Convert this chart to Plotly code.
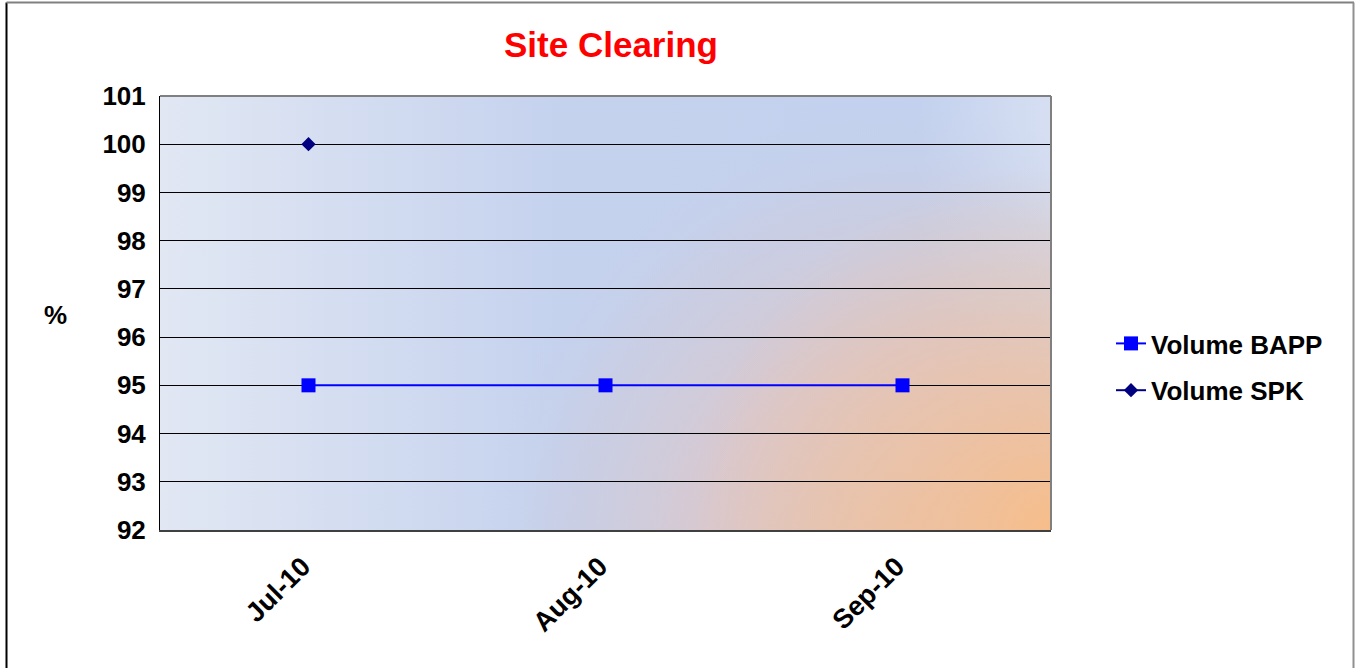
import base64
import plotly.graph_objects as go

months = ["Jul-10", "Aug-10", "Sep-10"]
bapp_values = [95, 95, 95]
spk_values = [100, None, None]
y_ticks = [92, 93, 94, 95, 96, 97, 98, 99, 100, 101]

W, H = 1355, 668
L, R, T, B = 160, 1051, 96, 530
pw, ph = R - L, B - T

def px(x):
    return (x - L) / pw

def py(y):
    return (B - y) / ph

c1x, c1y, r1x, r1y = 900 - L, 565 - T, 420, 460
c2x, c2y, r2 = pw, ph, 360
svg = f"""<svg xmlns='http://www.w3.org/2000/svg' width='{pw}' height='{ph}' viewBox='0 0 {pw} {ph}' preserveAspectRatio='none'>
<defs>
<linearGradient id='lg' x1='0' y1='0' x2='1' y2='0'>
<stop offset='0' stop-color='#E1E7F3'/>
<stop offset='0.45' stop-color='#C5D2EE'/>
<stop offset='0.85' stop-color='#C3D1EE'/>
<stop offset='1' stop-color='#D6DFF2'/>
</linearGradient>
<radialGradient id='rg1' gradientUnits='userSpaceOnUse' cx='{c1x}' cy='{c1y}' r='{r1x}'
 gradientTransform='translate({c1x},{c1y}) scale(1,{r1y / r1x:.4f}) translate({-c1x},{-c1y})'>
<stop offset='0' stop-color='#E9C3A9' stop-opacity='1'/>
<stop offset='0.45' stop-color='#DCC7CA' stop-opacity='0.9'/>
<stop offset='0.8' stop-color='#CDCBDC' stop-opacity='0.5'/>
<stop offset='1' stop-color='#C4D1EC' stop-opacity='0'/>
</radialGradient>
<radialGradient id='rg2' gradientUnits='userSpaceOnUse' cx='{c2x}' cy='{c2y}' r='{r2}'>
<stop offset='0' stop-color='#F7BD89' stop-opacity='1'/>
<stop offset='0.5' stop-color='#EEC1A0' stop-opacity='0.6'/>
<stop offset='1' stop-color='#E8C3AA' stop-opacity='0'/>
</radialGradient>
</defs>
<rect x='0' y='0' width='{pw}' height='{ph}' fill='url(#lg)'/>
<rect x='0' y='0' width='{pw}' height='{ph}' fill='url(#rg1)'/>
<rect x='0' y='0' width='{pw}' height='{ph}' fill='url(#rg2)'/>
</svg>"""
src = "data:image/svg+xml;base64," + base64.b64encode(svg.encode()).decode()

FONT = "Liberation Sans, Arial"

fig = go.Figure()
fig.add_trace(go.Scatter(
    x=months, y=bapp_values, name="Volume BAPP", mode="lines+markers",
    legendgroup="a",
    line=dict(color="#0000FF", width=2),
    marker=dict(symbol="square", size=14, color="#0000FF"),
))
fig.add_trace(go.Scatter(
    x=months, y=spk_values, name="Volume SPK", mode="lines+markers",
    legendgroup="b",
    line=dict(color="#000080", width=2),
    marker=dict(symbol="diamond", size=11, color="#000080"),
))

fig.update_layout(
    width=W, height=H,
    margin=dict(l=L, r=W - R, t=T, b=H - B),
    paper_bgcolor="white",
    plot_bgcolor="rgba(0,0,0,0)",
    title=dict(text="Site Clearing", x=px(611), xref="paper", y=1 - 45 / H,
               yanchor="middle", xanchor="center",
               font=dict(family=FONT, size=35, color="#FF0000", weight="bold")),
    showlegend=True,
    legend=dict(x=px(1111), y=py(367), xanchor="left", yanchor="middle",
                font=dict(family=FONT, size=26, color="black", weight="bold"),
                bgcolor="rgba(0,0,0,0)", traceorder="grouped", tracegroupgap=10),
    images=[dict(source=src, xref="paper", yref="paper", x=0, y=1, sizex=1, sizey=1,
                 sizing="stretch", layer="below", xanchor="left", yanchor="top")],
)

fig.update_xaxes(
    type="category", categoryorder="array", categoryarray=months,
    range=[-0.5, 2.5], tickangle=-45, showgrid=False, zeroline=False,
    showline=True, linecolor="#404040", linewidth=2, mirror=False,
    tickfont=dict(family=FONT, size=27, color="black", weight="bold"),
    ticks="", ticklabelstandoff=8, ticklabelshift=-6,
)
fig.update_yaxes(
    range=[92, 101], tickvals=y_ticks,
    showgrid=True, gridcolor="black", gridwidth=1, zeroline=False,
    showline=True, linecolor="black", linewidth=1, ticks="",
    tickfont=dict(family=FONT, size=26, color="black", weight="bold"),
    ticklabelstandoff=8,
)

# plot area border (top and right gray)
fig.add_shape(type="line", xref="paper", yref="paper", x0=0, x1=1, y0=1, y1=1,
              line=dict(color="#808080", width=2))
fig.add_shape(type="line", xref="paper", yref="paper", x0=1, x1=1, y0=0, y1=1,
              line=dict(color="#808080", width=2))
# figure border
fig.add_shape(type="line", xref="paper", yref="paper", x0=px(6.5), x1=px(6.5), y0=py(H + 5), y1=py(2.5),
              line=dict(color="black", width=2))
fig.add_shape(type="line", xref="paper", yref="paper", x0=px(6.5), x1=px(1354), y0=py(2.5), y1=py(2.5),
              line=dict(color="#808080", width=2))
fig.add_shape(type="line", xref="paper", yref="paper", x0=px(1353.5), x1=px(1353.5), y0=py(H + 5), y1=py(2.5),
              line=dict(color="#909090", width=2))

fig.add_annotation(text="%", xref="paper", yref="paper", x=px(55), y=py(315),
                   xanchor="center", yanchor="middle",
                   showarrow=False, font=dict(family=FONT, size=26, color="black", weight="bold"))

fig.write_html("out.html", config={"displayModeBar": False},
               post_script="document.body.style.margin='0';")
